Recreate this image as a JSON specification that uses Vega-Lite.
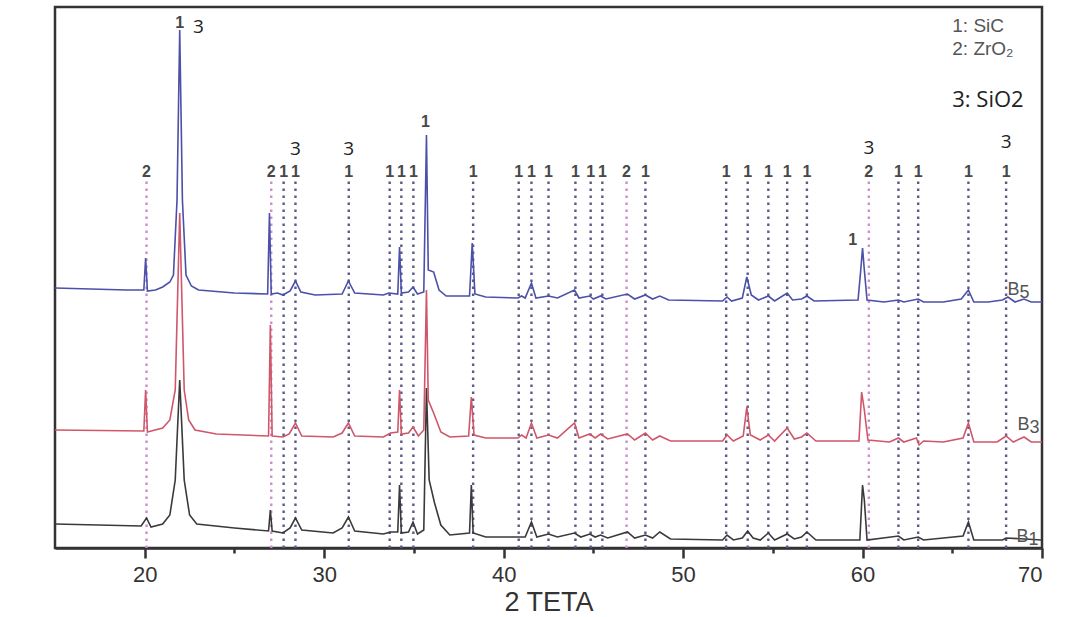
{
"$schema": "https://vega.github.io/schema/vega-lite/v6.json",
"width": 987, "height": 541,
"autosize": {"type": "none"},
"padding": {"left": 55, "top": 7, "right": 24, "bottom": 69},
"background": "white",
"config": {"view": {"stroke": "#333", "strokeWidth": 2.5}, "font": "Liberation Sans"},
"datasets": {
"B5": [[15.0,260],[19.0,258],[19.95,258],[20.05,290],[20.15,257],[20.6,258],[21.0,261],[21.4,266],[21.6,273],[21.8,348],[21.95,518],[22.1,348],[22.3,273],[22.6,262],[23.0,258],[25.0,255],[26.85,254],[26.95,335],[27.05,254],[27.4,255],[27.7,253],[28.1,257],[28.4,267],[28.7,256],[29.5,253],[31.0,254],[31.35,267],[31.7,255],[33.3,253],[33.6,255],[34.1,254],[34.2,301],[34.3,255],[34.7,256],[34.95,261],[35.2,254],[35.55,256],[35.7,413],[35.8,278],[36.1,276],[36.4,258],[36.8,252],[38.1,252],[38.25,305],[38.4,254],[39.0,251],[40.8,250],[41.0,252],[41.2,250],[41.55,265],[41.8,250],[42.5,252],[43.0,250],[43.95,258],[44.2,250],[44.8,252],[45.0,249],[45.4,252],[45.7,249],[46.9,254],[47.3,249],[47.9,253],[48.3,249],[48.7,252],[49.2,248],[52.2,247],[52.45,251],[52.7,247],[53.3,250],[53.55,271],[53.8,253],[54.2,248],[54.75,252],[55.1,247],[55.8,255],[56.1,248],[56.6,249],[56.9,252],[57.3,247],[59.75,248],[59.9,278],[60.0,300],[60.1,278],[60.25,248],[61.2,246],[62.0,248],[62.3,246],[63.1,249],[63.4,246],[64.5,246],[65.5,249],[65.9,258],[66.2,246],[67.0,246],[67.8,248],[68.1,251],[68.5,246],[69.0,249],[69.4,246],[70.0,246]],
"B3": [[15.0,118],[19.95,117],[20.05,158],[20.15,116],[21.0,120],[21.4,128],[21.7,158],[21.95,335],[22.2,158],[22.45,128],[22.8,118],[24.0,114],[26.9,112],[27.0,223],[27.1,112],[27.7,111],[28.05,114],[28.4,125],[28.75,112],[30.5,111],[31.0,115],[31.35,125],[31.7,112],[33.3,111],[33.7,115],[34.1,116],[34.2,158],[34.3,114],[34.7,115],[34.95,121],[35.25,112],[35.55,118],[35.7,258],[35.8,148],[36.1,135],[36.5,116],[37.0,111],[38.05,112],[38.2,151],[38.35,113],[39.0,110],[40.8,110],[41.0,113],[41.25,110],[41.55,125],[41.85,110],[42.5,113],[43.0,110],[43.95,125],[44.2,110],[44.8,114],[45.1,110],[45.4,114],[45.8,109],[46.9,114],[47.3,108],[47.9,115],[48.3,108],[48.7,112],[49.3,107],[52.2,107],[52.45,113],[52.8,107],[53.35,112],[53.55,141],[53.75,113],[54.3,108],[54.75,113],[55.1,107],[55.8,120],[56.2,109],[56.6,111],[56.9,115],[57.4,107],[59.8,107],[59.95,156],[60.1,138],[60.3,108],[61.5,106],[62.0,110],[62.3,106],[63.0,110],[63.15,103],[63.4,107],[64.5,106],[65.6,110],[65.9,125],[66.2,106],[67.5,106],[68.0,112],[68.4,106],[69.0,111],[69.4,106],[70.0,106]],
"B1": [[15.0,24],[19.8,22],[20.1,30],[20.35,21],[21.0,24],[21.4,33],[21.7,68],[21.95,168],[22.2,68],[22.5,33],[22.9,24],[25.0,20],[26.9,17],[27.0,38],[27.1,17],[27.7,15],[28.1,20],[28.4,30],[28.75,18],[30.5,15],[31.0,20],[31.35,31],[31.7,17],[33.3,14],[33.7,16],[34.1,16],[34.2,63],[34.3,15],[34.7,16],[34.95,26],[35.2,14],[35.55,18],[35.7,160],[35.85,68],[36.15,45],[36.5,23],[37.0,13],[38.1,15],[38.2,63],[38.3,15],[39.0,11],[41.2,11],[41.55,26],[41.85,11],[42.5,14],[43.0,11],[43.95,15],[44.3,11],[44.8,14],[45.1,11],[45.4,13],[45.8,10],[46.9,16],[47.3,10],[47.9,13],[48.3,10],[48.7,16],[49.3,9],[52.2,8],[52.45,13],[52.8,8],[53.3,10],[53.6,17],[53.9,10],[54.3,8],[54.75,15],[55.1,8],[55.8,14],[56.2,9],[56.6,11],[56.9,16],[57.4,8],[59.85,8],[60.0,63],[60.1,48],[60.25,8],[62.0,12],[62.3,8],[63.1,11],[63.4,8],[64.5,10],[65.6,12],[65.9,26],[66.2,8],[67.8,8],[68.0,10],[70.0,8]],
"refs": [
{"x":20.1,"phase":"ZrO2","t":"2"},{"x":27.05,"phase":"ZrO2","t":"2"},{"x":27.74,"phase":"SiC","t":"1"},{"x":28.4,"phase":"SiC","t":"1"},{"x":31.37,"phase":"SiC","t":"1"},{"x":33.65,"phase":"SiC","t":"1"},{"x":34.3,"phase":"SiC","t":"1"},{"x":34.97,"phase":"SiC","t":"1"},{"x":38.3,"phase":"SiC","t":"1"},{"x":40.84,"phase":"SiC","t":"1"},{"x":41.55,"phase":"SiC","t":"1"},{"x":42.5,"phase":"SiC","t":"1"},{"x":44.0,"phase":"SiC","t":"1"},{"x":44.85,"phase":"SiC","t":"1"},{"x":45.5,"phase":"SiC","t":"1"},{"x":46.85,"phase":"ZrO2","t":"2"},{"x":47.9,"phase":"SiC","t":"1"},{"x":52.4,"phase":"SiC","t":"1"},{"x":53.6,"phase":"SiC","t":"1"},{"x":54.75,"phase":"SiC","t":"1"},{"x":55.8,"phase":"SiC","t":"1"},{"x":56.9,"phase":"SiC","t":"1"},{"x":60.35,"phase":"ZrO2","t":"2"},{"x":62.0,"phase":"SiC","t":"1"},{"x":63.1,"phase":"SiC","t":"1"},{"x":65.9,"phase":"SiC","t":"1"},{"x":68.0,"phase":"SiC","t":"1"}],
"extra1": [{"x":21.95,"v":525,"t":"1"},{"x":35.65,"v":426,"t":"1"},{"x":59.45,"v":308,"t":"1"}],
"sio2": [{"x":22.99,"v":521,"t":"3"},{"x":28.4,"v":399,"t":"3"},{"x":31.37,"v":399,"t":"3"},{"x":60.35,"v":400,"t":"3"},{"x":68.0,"v":406,"t":"3"}],
"legend": [{"x":65.0,"v":522,"t":"1: SiC"},{"x":65.0,"v":499,"t":"2: ZrO₂"}],
"legend3": [{"x":65.0,"v":448,"t":"3: SiO2"}],
"tags": [{"x":68.75,"v":258,"b":"B","d":"5"},{"x":69.3,"v":123,"b":"B","d":"3"},{"x":69.25,"v":11,"b":"B","d":"1"}]
},
"encoding": {
"x": {"field": "x", "type": "quantitative", "scale": {"domain": [15, 70], "nice": false, "zero": false},
"axis": {"title": "2 TETA", "values": [20,25,30,35,40,45,50,55,60,65,70], "labelExpr": "datum.value % 10 === 0 ? datum.label : ''",
"tickSize": {"condition": {"test": "datum.value % 10 !== 0", "value": 5}, "value": 10},
"tickColor": "#333", "tickWidth": 2.5, "domainColor": "#333", "domainWidth": 2.5, "grid": false,
"labelFontSize": 22, "labelColor": "#333", "labelPadding": 6, "labelFont": "Liberation Sans",
"titleFontSize": 27, "titleFontWeight": "normal", "titleColor": "#333", "titlePadding": 4, "titleFont": "Liberation Sans"}}
},
"layer": [
{"data": {"name": "refs"}, "mark": {"type": "rule", "strokeDash": [2.5, 4.5], "strokeWidth": 2.4},
"encoding": {"y": {"datum": 0, "type": "quantitative", "scale": {"domain": [0, 541], "nice": false, "zero": false}, "axis": null}, "y2": {"datum": 368},
"color": {"field": "phase", "type": "nominal", "scale": {"domain": ["SiC", "ZrO2"], "range": ["#5a5a88", "#cc8fcc"]}, "legend": null}}},
{"data": {"name": "refs"}, "mark": {"type": "text", "fontSize": 16, "fontWeight": "bold", "color": "#484848", "baseline": "middle"},
"encoding": {"y": {"datum": 376, "type": "quantitative", "axis": null}, "text": {"field": "t"}}},
{"data": {"name": "B5"}, "transform": [{"calculate": "datum[0]", "as": "x"}, {"calculate": "datum[1]", "as": "v"}],
"mark": {"type": "line", "color": "#4b50a8", "strokeWidth": 1.6},
"encoding": {"y": {"field": "v", "type": "quantitative", "scale": {"domain": [0, 541], "nice": false, "zero": false},
"axis": {"title": "A.U", "ticks": false, "labels": false, "grid": false, "domainColor": "#333", "domainWidth": 2.5,
"titleFontSize": 27, "titleFontWeight": "normal", "titleColor": "#333", "titleFont": "Liberation Sans", "titlePadding": 18, "titleY": 284, "titleAlign": "center"}}}},
{"data": {"name": "B1"}, "transform": [{"calculate": "datum[0]", "as": "x"}, {"calculate": "datum[1]", "as": "v"}],
"mark": {"type": "line", "color": "#3a3a3a", "strokeWidth": 1.6}, "encoding": {"y": {"field": "v", "type": "quantitative", "axis": null}}},
{"data": {"name": "B3"}, "transform": [{"calculate": "datum[0]", "as": "x"}, {"calculate": "datum[1]", "as": "v"}],
"mark": {"type": "line", "color": "#d0566a", "strokeWidth": 1.6}, "encoding": {"y": {"field": "v", "type": "quantitative", "axis": null}}},
{"data": {"name": "extra1"}, "mark": {"type": "text", "fontSize": 16, "fontWeight": "bold", "color": "#484848", "baseline": "middle"},
"encoding": {"y": {"field": "v", "type": "quantitative", "axis": null}, "text": {"field": "t"}}},
{"data": {"name": "sio2"}, "mark": {"type": "text", "fontSize": 19, "color": "#222", "baseline": "middle", "font": "Open Sans"},
"encoding": {"y": {"field": "v", "type": "quantitative", "axis": null}, "text": {"field": "t"}}},
{"data": {"name": "legend"}, "mark": {"type": "text", "fontSize": 19, "color": "#555", "baseline": "middle", "align": "left"},
"encoding": {"y": {"field": "v", "type": "quantitative", "axis": null}, "text": {"field": "t"}}},
{"data": {"name": "legend3"}, "mark": {"type": "text", "fontSize": 22, "color": "#222", "baseline": "middle", "align": "left", "font": "Open Sans"},
"encoding": {"y": {"field": "v", "type": "quantitative", "axis": null}, "text": {"field": "t"}}},
{"data": {"name": "tags"}, "mark": {"type": "text", "fontSize": 18, "color": "#555", "baseline": "middle", "align": "right"},
"encoding": {"y": {"field": "v", "type": "quantitative", "axis": null}, "text": {"field": "b"}}},
{"data": {"name": "tags"}, "mark": {"type": "text", "fontSize": 18, "color": "#555", "baseline": "middle", "align": "left", "dy": 3},
"encoding": {"y": {"field": "v", "type": "quantitative", "axis": null}, "text": {"field": "d"}}}
]
}
